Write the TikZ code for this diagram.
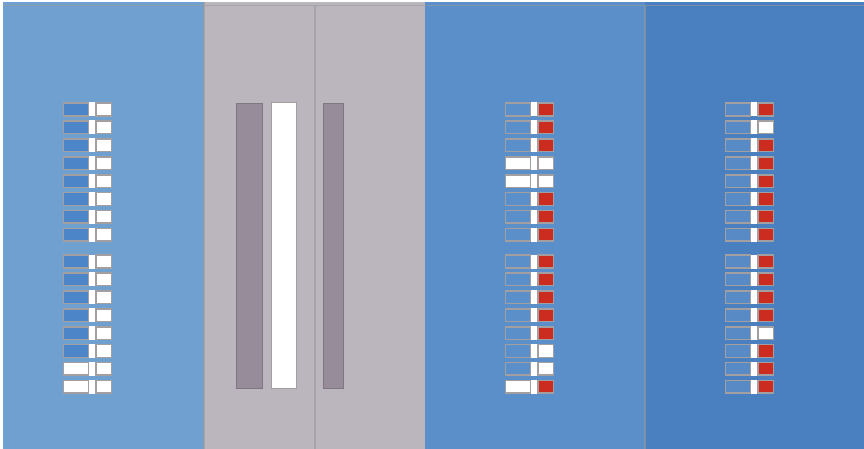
\documentclass[tikz,border=0pt]{standalone}
\usepackage{tikz}
\usetikzlibrary{calc}

\definecolor{paneA}{HTML}{6FA0D0}
\definecolor{paneG}{HTML}{BBB5BE}
\definecolor{paneB}{HTML}{5A8FC9}
\definecolor{paneC}{HTML}{4A80C0}
\definecolor{swblue}{HTML}{4D86C8}
\definecolor{swred}{HTML}{CC2B1F}
\definecolor{swedge}{HTML}{A39E9F}
\definecolor{bargray}{HTML}{978C99}

\tikzset{
  swbox/.style={draw=swedge, line width=1.5pt},
  divider/.style={draw=gray!80, line width=1.8pt, opacity=0.6},
  bar/.style={draw=bargray!85!black, line width=0.6pt, fill=bargray}
}

% one dip switch: x, y (top), left fill, right fill
\newcommand{\dipsw}[4]{%
  \fill[white] (#1+25.5,#2) rectangle (#1+32.5,#2+14);
  \draw[swbox, fill=#3] (#1+0.7,#2+0.7) rectangle (#1+25.5,#2+13.3);
  \draw[swbox, fill=#4] (#1+33.2,#2+0.7) rectangle (#1+48.3,#2+13.3);
}

\begin{document}
\begin{tikzpicture}[x=1pt,y=-1pt]
  \useasboundingbox (0,0) rectangle (864,449);
  % panels
  \fill[paneA] (3,2) rectangle (204,449);
  \fill[paneG] (204,2) rectangle (425,449);
  \fill[paneB] (425,2) rectangle (645,449);
  \fill[paneC] (645,2) rectangle (864,449);
  \draw[divider] (3,5.5) -- (864,5.5);
  \draw[divider] (204,2) -- (204,449);
  \draw[divider] (315,6) -- (315,449);
  \draw[divider] (645,6) -- (645,449);

  % middle bars
  \draw[bar] (236.5,103) rectangle (262.5,388);
  \draw[fill=white, draw=swedge, line width=1pt] (271,103) rectangle (296.5,388);
  \draw[bar] (323,103) rectangle (343,388);

  % switches, first panel
  \foreach \l/\r [count=\i from 0] in {swblue/white,swblue/white,swblue/white,swblue/white,
      swblue/white,swblue/white,swblue/white,swblue/white,
      swblue/white,swblue/white,swblue/white,swblue/white,
      swblue/white,swblue/white,white/white,white/white}{
    \pgfmathsetmacro{\yy}{\i<8 ? 102.5+17.9*\i : 254.5+17.9*(\i-8)}
    \dipsw{63}{\yy}{\l}{\r}
  }
  % switches, third panel
  \foreach \l/\r [count=\i from 0] in {paneB/swred,paneB/swred,paneB/swred,white/white,
      white/white,paneB/swred,paneB/swred,paneB/swred,
      paneB/swred,paneB/swred,paneB/swred,paneB/swred,
      paneB/swred,paneB/white,paneB/white,white/swred}{
    \pgfmathsetmacro{\yy}{\i<8 ? 102.5+17.9*\i : 254.5+17.9*(\i-8)}
    \dipsw{505}{\yy}{\l}{\r}
  }
  % switches, fourth panel
  \foreach \l/\r [count=\i from 0] in {paneC!92!white/swred,paneC!92!white/white,
      paneC!92!white/swred,paneC!92!white/swred,paneC!92!white/swred,
      paneC!92!white/swred,paneC!92!white/swred,paneC!92!white/swred,
      paneC!92!white/swred,paneC!92!white/swred,paneC!92!white/swred,
      paneC!92!white/swred,paneC!92!white/white,paneC!92!white/swred,
      paneC!92!white/swred,paneC!92!white/swred}{
    \pgfmathsetmacro{\yy}{\i<8 ? 102.5+17.9*\i : 254.5+17.9*(\i-8)}
    \dipsw{725}{\yy}{\l}{\r}
  }
\end{tikzpicture}
\end{document}
